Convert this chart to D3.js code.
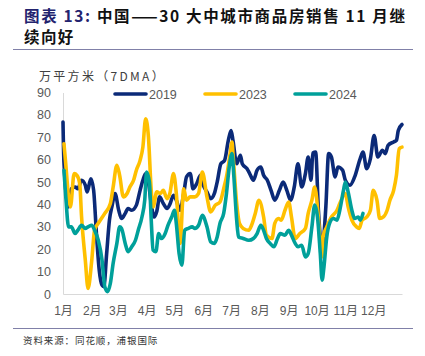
<!DOCTYPE html>
<html><head><meta charset="utf-8">
<script src="https://cdn.jsdelivr.net/npm/d3@7"></script>
<style>
html,body{margin:0;padding:0;background:#fff;}
svg{display:block;}
</style></head>
<body>
<svg id="c" width="425" height="356"></svg>
<script>
// ---------- data ----------
const monthLabels = ["1月","2月","3月","4月","5月","6月","7月","8月","9月","10月","11月","12月"];
const monthStartDays = [0,31,59,90,120,151,181,212,243,273,304,334];
const yTicks = [0,10,20,30,40,50,60,70,80,90];
const seriesNames = ["2019","2023","2024"];

const days2019 = [0,1,6,9,13,16,20,24,26,30,33,36,39,42,44,47,50,53,56,60,63,67,70,74,79,83,86,89,92,95,98,101,104,108,112,115,119,122,126,130,133,137,140,144,148,151,155,159,163,166,170,174,178,181,183,187,191,193,198,201,205,209,213,216,220,224,228,233,237,241,245,249,253,257,261,264,267,269,272,275,279,283,286,289,293,296,301,304,309,314,320,323,327,331,335,339,344,347,350,356,359,361,365];
const vals2019 = [76.8,59,38.9,47,47.8,47,50.8,48.6,45.6,51.5,46.3,27,10.7,4,3.3,18.1,33,39.7,44.9,37.4,33.7,36,38.2,37.4,39.7,46.3,50.8,53.8,50,40.4,34.4,37,43.4,40.4,38.2,40,44.1,41.9,37.4,44.9,52.3,53.8,47,49.3,53,48.6,45.6,42.6,44.9,50,58.2,59.7,68.6,73,68.6,58.2,62,58.2,56,53.8,50.8,55.3,56.7,53,50.8,46.3,41.9,46.3,50,46.3,41.9,47.8,58.2,47.8,53.8,61.2,50.8,63,63.4,37.4,20,38.9,62.7,61.2,52.3,56.7,55.3,50.8,48.6,52.3,60.5,63.4,56,60.5,70.8,61.2,64.2,62.7,66.4,67.9,68.6,73,75.7];

const days2023 = [1,2,8,12,15,18,20,24,27,31,34,39,45,51,54,58,61,65,69,72,76,79,83,86,89,92,95,97,101,105,108,112,115,119,122,126,130,133,137,142,146,150,155,159,164,169,173,176,180,182,183,187,190,194,200,203,207,211,216,219,225,228,232,235,239,243,246,250,255,261,264,268,271,274,277,279,280,284,289,295,298,304,307,311,316,319,322,327,331,334,338,341,345,349,352,356,359,362,365];
const vals2023 = [67.1,62.7,38.9,53.8,53,49.3,34.4,15.2,2.5,15.2,28.5,32.2,36,40.4,47.8,57.5,53,43.4,44.9,47.8,50.8,55.3,59.7,65.6,78.3,70.1,46.3,38.9,45.6,44.9,46.3,42.6,44.9,53.8,44.9,22.6,47,41.9,43.4,43.4,44.9,54.5,43.4,36.7,39.7,41.1,47,52.3,62.7,67.9,62.7,40.4,31.5,29.3,28.5,30.7,36,41.9,34.4,26.3,24.8,31.5,33.7,33,37.4,41.1,34.4,24.8,27,29.3,36,41.9,47.8,38.9,22.6,16.6,25.5,30,34.4,37.4,40.4,44.9,38.9,33,30,29.3,33,34.4,37.4,46.3,41.9,33.7,34.4,37.4,41.9,46.3,53,64.9,65.6];

const days2024 = [1,3,6,9,13,16,20,24,27,31,34,38,42,45,48,51,54,58,61,63,67,70,74,78,81,85,88,90,93,95,97,100,103,106,110,113,117,120,122,125,128,131,135,139,142,146,150,155,159,163,166,169,173,176,179,182,184,187,189,194,200,205,209,213,216,219,223,227,231,234,239,243,246,250,253,257,261,264,268,271,274,277,279,281,284,287,291,295,298,302,304,307,311,314,318,320,323];
const vals2024 = [55.3,43.4,30,30,27,28.5,30.7,29.3,30,30.7,28.5,24,15.2,3.3,1,4.8,13.7,22.6,30,29.3,22.6,18.9,21.1,24,28.5,34.4,41.9,54.5,50,33,19.6,18.9,27,24.8,27,30.7,34.4,37.4,31.5,18.1,12.9,28.5,29.3,30,29.3,30.7,35.2,30,23.3,22.6,25.5,31.5,36,44.9,56.7,62.7,52.3,33,25.5,24.8,24,24.8,27,30.7,28.5,24.8,22.6,21.1,24.8,27,26.3,28.5,26.3,22.6,21.1,21.8,16.6,18.1,30,39.7,34.4,18.1,6.2,12.2,25.5,31.5,33.7,33,37.4,46.3,50,45.6,37.4,33.7,34.4,33,36];

const colors = ["#0B2A78","#FFC000","#00A09A"];

// ---------- drawing ----------
const svg = d3.select("#c");
const x = d3.scaleLinear().domain([0,365]).range([63,402]);
const y = d3.scaleLinear().domain([0,90]).range([294,92.5]);

// title
const title = svg.append("text").attr("x",24).attr("y",22)
  .attr("font-family","'Noto Sans CJK SC', 'Noto Sans', sans-serif")
  .attr("font-weight","bold").attr("font-size",15.5).attr("letter-spacing",1.65);
title.append("tspan").attr("fill","#23236e").text("图表 13: ");
title.append("tspan").attr("fill","#111").text("中国——30 大中城市商品房销售 11 月继");
svg.append("text").attr("x",24).attr("y",43)
  .attr("font-family","'Noto Sans CJK SC', 'Noto Sans', sans-serif")
  .attr("font-weight","bold").attr("font-size",15.5).attr("letter-spacing",1.4).attr("fill","#111")
  .text("续向好");

// rules
svg.append("line").attr("x1",13).attr("x2",413).attr("y1",49.5).attr("y2",49.5)
  .attr("stroke","#8080a8").attr("stroke-width",1);
svg.append("line").attr("x1",13).attr("x2",413).attr("y1",328.5).attr("y2",328.5)
  .attr("stroke","#8080a8").attr("stroke-width",1);

// source
svg.append("text").attr("x",23).attr("y",344)
  .attr("font-family","'Noto Sans CJK SC', sans-serif").attr("font-size",9.5).attr("fill","#333")
  .attr("letter-spacing",0.9)
  .text("资料来源：同花顺，浦银国际");

// unit
svg.append("text").attr("x",39).attr("y",81)
  .attr("font-family","'Noto Sans CJK SC', sans-serif").attr("font-size",12).attr("fill","#404040")
  .attr("letter-spacing",2.3)
  .text("万平方米（7DMA）");

// axes
const yAxis = svg.append("g").attr("transform","translate(63,0)")
  .call(d3.axisLeft(y).tickValues(yTicks).tickSize(0).tickPadding(12));
yAxis.select(".domain").attr("stroke","#d9d9d9");
yAxis.selectAll("text").attr("font-family","'Liberation Sans', Arial, sans-serif")
  .attr("font-size",12.5).attr("fill","#595959");

const xAxis = svg.append("g").attr("transform","translate(0,294)")
  .call(d3.axisBottom(x).tickValues(monthStartDays).tickSize(0).tickPadding(12)
    .tickFormat((d,i)=>monthLabels[i]));
xAxis.select(".domain").attr("stroke","#d9d9d9");
xAxis.selectAll("text").attr("font-family","'Liberation Sans', 'Noto Sans CJK SC', sans-serif")
  .attr("font-size",12).attr("fill","#595959");

// lines
const dataSets = [
  d3.zip(days2019, vals2019),
  d3.zip(days2023, vals2023),
  d3.zip(days2024, vals2024)
];
const line = d3.line().x(d=>x(d[0])).y(d=>y(d[1])).curve(d3.curveMonotoneX);
dataSets.forEach((ds,i)=>{
  svg.append("path").datum(ds).attr("d",line)
    .attr("fill","none").attr("stroke",colors[i]).attr("stroke-width",3.6)
    .attr("stroke-linejoin","round").attr("stroke-linecap","round");
});

// legend
const legX = [114,204,294];
seriesNames.forEach((n,i)=>{
  svg.append("line").attr("x1",legX[i]+1).attr("x2",legX[i]+32).attr("y1",94).attr("y2",94)
    .attr("stroke",colors[i]).attr("stroke-width",3.6).attr("stroke-linecap","round");
  svg.append("text").attr("x",legX[i]+35).attr("y",98.5)
    .attr("font-family","'Liberation Sans', Arial, sans-serif").attr("font-size",12.5)
    .attr("fill","#595959").text(n);
});
</script>
</body></html>
